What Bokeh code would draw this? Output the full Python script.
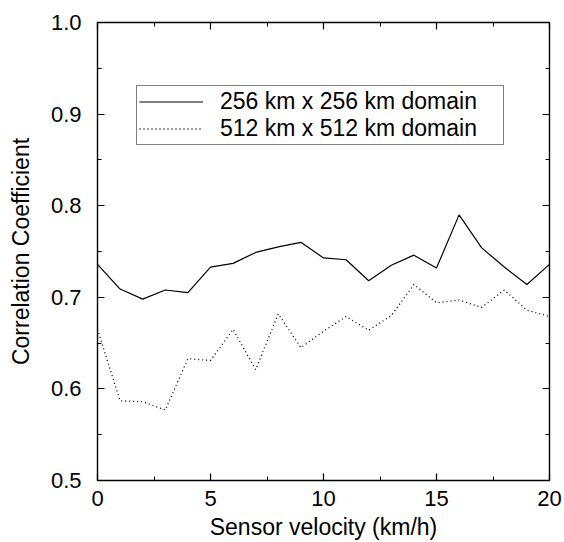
from bokeh.plotting import figure
from bokeh.models import (Range1d, SingleIntervalTicker, LinearAxis, Legend,
                          LegendItem, PrintfTickFormatter, CustomLabelingPolicy)
from bokeh.embed import file_html
from bokeh.resources import INLINE

velocity = list(range(21))
corr_256 = [0.736, 0.709, 0.698, 0.708, 0.705, 0.733, 0.737, 0.749, 0.755, 0.760,
            0.743, 0.741, 0.718, 0.735, 0.746, 0.732, 0.790, 0.754, 0.733, 0.714, 0.736]
corr_512 = [0.665, 0.587, 0.586, 0.577, 0.633, 0.631, 0.665, 0.621, 0.682, 0.645,
            0.663, 0.679, 0.664, 0.680, 0.714, 0.694, 0.697, 0.689, 0.708, 0.686, 0.679]
legend_labels = ["256 km x 256 km domain", "512 km x 512 km domain"]
x_title = "Sensor velocity (km/h)"
y_title = "Correlation Coefficient"

FONT = "Liberation Sans"

p = figure(width=564, height=542, output_backend="svg", toolbar_location=None,
           x_range=Range1d(0, 20), y_range=Range1d(0.5, 1.0),
           min_border_left=97, min_border_top=22, min_border_right=15,
           min_border_bottom=60, background_fill_color="white",
           border_fill_color="white")
p.xgrid.visible = False
p.ygrid.visible = False
p.outline_line_color = "black"
p.outline_line_width = 1.4

xt = SingleIntervalTicker(interval=5, num_minor_ticks=2)
yt = SingleIntervalTicker(interval=0.1, num_minor_ticks=2)

def style(ax, labels=True):
    ax.axis_line_color = None
    ax.major_tick_in = 7
    ax.major_tick_out = 0
    ax.minor_tick_in = 4
    ax.minor_tick_out = 0
    ax.major_tick_line_color = "black"
    ax.minor_tick_line_color = "black"
    ax.major_tick_line_width = 1.2
    ax.minor_tick_line_width = 1.0
    if labels:
        ax.major_label_text_font = FONT
        ax.major_label_text_font_size = "22px"
        ax.major_label_text_color = "black"
        ax.axis_label_text_font = FONT
        ax.axis_label_text_font_size = "23px"
        ax.axis_label_text_font_style = "normal"
        ax.axis_label_text_color = "black"
    else:
        ax.major_label_policy = CustomLabelingPolicy(code="return new Set()")
        ax.major_label_text_font_size = "0px"
        ax.major_label_standoff = 0
        ax.axis_label_standoff = 0

p.xaxis.ticker = xt
p.yaxis.ticker = yt
p.yaxis.formatter = PrintfTickFormatter(format="%.1f")
style(p.xaxis[0])
style(p.yaxis[0])
p.xaxis.axis_label = x_title
p.yaxis.axis_label = y_title
p.xaxis.major_label_standoff = 10
p.xaxis.axis_label_standoff = 5
p.yaxis.major_label_standoff = 16
p.yaxis.axis_label_standoff = 14

top_ax = LinearAxis(ticker=SingleIntervalTicker(interval=5, num_minor_ticks=2))
right_ax = LinearAxis(ticker=SingleIntervalTicker(interval=0.1, num_minor_ticks=2))
style(top_ax, labels=False)
style(right_ax, labels=False)
p.add_layout(top_ax, "above")
p.add_layout(right_ax, "right")

r1 = p.line(velocity, corr_256, line_color="black", line_width=1.2)
r2 = p.line(velocity, corr_512, line_color="black", line_width=1.3, line_dash="1 3")

legend = Legend(items=[LegendItem(label=legend_labels[0], renderers=[r1]),
                       LegendItem(label=legend_labels[1], renderers=[r2])],
                location=(39, 335), padding=2, margin=0, spacing=0,
                glyph_width=64, glyph_height=27, label_height=27,
                label_standoff=17, label_width=281,
                label_text_font=FONT, label_text_font_size="23px",
                label_text_color="black",
                border_line_color="black", border_line_width=1,
                background_fill_color="white", background_fill_alpha=1)
p.add_layout(legend, "center")

open("out.html", "w").write(file_html(p, INLINE))
